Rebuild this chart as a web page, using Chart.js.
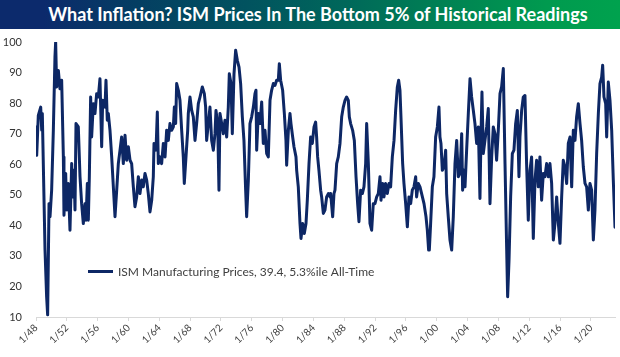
<!DOCTYPE html>
<html>
<head>
<meta charset="utf-8">
<script src="https://cdn.jsdelivr.net/npm/chart.js@4.4.1/dist/chart.umd.min.js"></script>
<style>
  html, body { margin: 0; padding: 0; background: #ffffff; }
  #wrap { position: relative; width: 620px; height: 357px; overflow: hidden; }
  #title {
    position: absolute; left: 0; top: 0; width: 620px; height: 29px;
    background: linear-gradient(90deg, #0c2a6c 0%, #0c2a6c 7%, #043e62 22%, #01535f 40%, #00685a 56%, #008253 72%, #009a4f 88%, #00a24e 100%);
    color: #ffffff; font-family: Lato, "Open Sans", sans-serif; font-weight: 700; font-size: 18px;
    line-height: 29px; text-align: center; box-sizing: border-box; padding-left: 16px; white-space: nowrap;
  }
  canvas { position: absolute; left: 0; top: 0; }
</style>
</head>
<body>
<div id="wrap">
  <canvas id="c" width="620" height="357"></canvas>
  <div id="title">What Inflation? ISM Prices In The Bottom 5% of Historical Readings</div>
</div>
<script>
// Dates as decimal years
const dates = [
1948.00,1948.09,1948.30,1948.61,1948.74,1948.82,1949.17,1949.38,1949.51,1949.69,1949.82,1950.03,1950.25,1950.46,1950.55,1950.68,1950.90,1951.11,1951.33,1951.55,
1951.63,1951.85,1951.98,1952.19,1952.41,1952.63,1952.76,1952.93,1953.06,1953.19,1953.49,1953.71,1953.92,1954.14,1954.36,1954.49,1954.66,1954.79,1954.92,1955.09,
1955.22,1955.44,1955.65,1955.87,1956.09,1956.30,1956.52,1956.65,1956.95,1957.08,1957.25,1957.38,1957.60,1957.82,1958.25,1958.47,1958.68,1958.90,1959.11,1959.33,
1959.55,1959.76,1959.98,1960.20,1960.41,1960.63,1960.84,1961.06,1961.28,1961.49,1961.71,1961.92,1962.14,1962.36,1962.57,1962.79,1963.01,1963.22,1963.31,1963.57,
1963.74,1963.87,1964.09,1964.30,1964.52,1964.74,1964.95,1965.17,1965.38,1965.60,1965.82,1965.95,1966.12,1966.25,1966.47,1966.68,1966.90,1967.11,1967.24,1967.46,
1967.68,1967.76,1967.98,1968.20,1968.41,1968.63,1968.84,1969.06,1969.28,1969.58,1969.84,1970.01,1970.14,1970.36,1970.57,1970.79,1971.01,1971.22,1971.35,1971.57,
1971.74,1971.87,1972.09,1972.30,1972.52,1972.74,1972.95,1973.08,1973.30,1973.47,1973.69,1973.90,1974.12,1974.34,1974.55,1974.77,1974.98,1975.20,1975.33,1975.55,
1975.76,1975.98,1976.20,1976.41,1976.54,1976.63,1976.84,1977.06,1977.28,1977.49,1977.71,1977.93,1978.14,1978.36,1978.57,1978.79,1979.01,1979.22,1979.44,1979.57,
1979.74,1980.00,1980.22,1980.43,1980.52,1980.74,1980.95,1981.08,1981.30,1981.47,1981.73,1981.82,1982.03,1982.25,1982.38,1982.60,1982.81,1983.03,1983.20,1983.42,
1983.63,1983.85,1984.07,1984.28,1984.41,1984.54,1984.71,1984.93,1985.06,1985.28,1985.49,1985.71,1985.93,1986.14,1986.23,1986.49,1986.66,1986.79,1987.01,1987.22,
1987.44,1987.66,1987.87,1988.09,1988.30,1988.52,1988.65,1988.82,1989.08,1989.30,1989.52,1989.73,1989.90,1990.12,1990.34,1990.55,1990.77,1990.90,1991.12,1991.33,
1991.55,1991.76,1991.98,1992.20,1992.41,1992.63,1992.76,1992.98,1993.15,1993.36,1993.58,1993.80,1994.01,1994.23,1994.45,1994.66,1994.88,1995.05,1995.22,1995.35,
1995.57,1995.74,1995.96,1996.18,1996.39,1996.61,1996.82,1997.04,1997.26,1997.38,1997.60,1997.82,1998.03,1998.34,1998.60,1998.77,1998.94,1999.03,1999.20,1999.42,
1999.63,1999.85,2000.07,2000.28,2000.41,2000.54,2000.72,2000.93,2001.15,2001.28,2001.49,2001.71,2001.93,2002.14,2002.36,2002.58,2002.79,2003.01,2003.23,2003.35,
2003.53,2003.66,2003.87,2004.09,2004.31,2004.52,2004.74,2004.95,2005.17,2005.39,2005.60,2005.73,2005.86,2006.03,2006.25,2006.47,2006.68,2006.90,2007.12,2007.33,
2007.55,2007.76,2007.98,2008.20,2008.41,2008.63,2008.85,2009.06,2009.19,2009.37,2009.58,2009.80,2010.01,2010.23,2010.45,2010.66,2010.79,2011.01,2011.22,2011.44,
2011.65,2011.87,2012.09,2012.30,2012.52,2012.74,2012.95,2013.17,2013.38,2013.60,2013.82,2014.03,2014.25,2014.47,2014.68,2014.90,2015.12,2015.33,2015.55,2015.77,
2015.98,2016.20,2016.41,2016.63,2016.85,2017.06,2017.28,2017.50,2017.71,2017.93,2018.14,2018.36,2018.58,2018.79,2019.01,2019.23,2019.44,2019.66,2019.87,2020.09,
2020.31,2020.52,2020.74,2020.96,2021.17,2021.39,2021.52,2021.69,2021.91,2022.04,2022.25,2022.47,2022.69,2022.90,2023.12
];
// ISM Manufacturing Prices index values
const prices = [
72.2,62.9,76.0,78.7,71.1,76.6,31.9,16.6,10.7,47.1,42.8,51.5,71.1,95.1,100,85.3,90.7,84.7,87.5,62.4,
43.3,57.0,45.0,53.7,38.4,60.2,49.3,58.0,45.0,73.3,72.2,55.9,47.1,40.6,47.1,41.7,53.7,41.7,55.9,82.0,
68.9,79.8,76.6,83.1,82.0,88.0,65.7,80.9,78.7,87.5,74.4,76.6,71.1,62.4,42.8,51.5,60.2,64.6,68.9,60.2,
69.5,61.3,65.7,61.3,60.2,52.6,46.1,49.3,55.9,50.4,54.8,52.6,57.0,54.8,50.4,44.4,48.2,55.9,66.8,64.6,
77.1,60.2,62.4,60.2,66.8,62.4,71.1,67.8,73.3,71.1,72.2,78.7,73.3,86.4,84.2,80.9,71.1,62.4,53.7,62.4,
71.1,76.6,82.0,77.6,75.5,67.8,73.3,79.8,82.0,85.3,83.1,78.7,67.8,73.3,78.7,67.8,64.6,70.0,77.6,73.3,
51.5,76.6,73.3,70.0,74.4,68.9,78.7,89.6,86.4,70.0,89.6,97.3,94.0,91.8,86.4,75.5,67.8,51.5,42.8,54.8,
73.3,75.5,78.7,83.1,84.2,64.6,76.6,73.3,80.4,66.8,71.1,63.5,62.4,80.9,84.2,86.4,85.8,87.5,87.5,92.9,
87.5,84.2,76.6,67.8,59.7,71.1,76.6,73.3,68.9,65.7,62.4,58.0,52.6,40.6,35.7,40.6,37.3,40.6,48.2,60.2,
68.9,66.8,72.2,73.8,68.9,62.4,58.0,51.5,49.3,43.9,45.0,49.3,50.4,49.3,50.4,42.8,50.4,51.5,60.2,62.4,
66.8,75.5,78.7,80.9,82.0,80.9,75.5,73.3,71.1,67.8,55.9,47.1,41.2,51.5,50.4,52.6,60.2,73.3,60.2,40.6,
38.4,47.1,47.1,49.3,50.4,55.9,48.2,53.7,49.3,53.7,50.4,53.7,52.6,62.4,67.8,77.6,85.3,87.5,84.2,75.5,
60.2,53.7,47.1,39.5,49.3,47.1,51.5,52.6,55.9,49.3,53.7,52.6,50.4,47.1,42.8,38.4,31.9,31.9,40.6,52.6,
55.9,68.9,72.2,78.7,68.9,66.8,58.0,59.1,64.6,50.4,42.8,35.2,31.9,42.8,60.2,67.8,55.9,57.0,70.0,51.5,
58.0,52.6,64.6,76.6,88.0,82.0,77.6,73.3,66.8,72.2,48.8,68.9,83.6,63.5,67.8,72.2,78.2,47.1,62.4,72.2,
70.0,61.3,71.1,83.1,85.3,91.3,60.2,33.0,16.6,28.6,49.3,63.5,64.6,73.3,77.6,55.9,68.9,77.6,82.0,82.5,
60.2,41.7,58.0,62.4,35.7,54.8,61.3,52.6,62.4,48.2,57.0,55.9,60.2,55.9,60.2,53.7,35.2,40.6,49.3,40.6,
34.1,49.3,61.3,59.1,53.7,66.8,68.9,52.6,71.1,67.8,75.5,79.8,73.3,67.8,59.1,53.7,52.6,45.0,53.7,51.5,
35.2,45.0,63.5,76.6,86.4,88.5,92.4,82.0,79.8,68.9,86.9,80.9,71.1,54.8,39.4
];
const seriesLabel = 'ISM Manufacturing Prices, 39.4, 5.3%ile All-Time';
const yTicks = [10, 20, 30, 40, 50, 60, 70, 80, 90, 100];
const xTickYears = [1948,1952,1956,1960,1964,1968,1972,1976,1980,1984,1988,1992,1996,2000,2004,2008,2012,2016,2020];

const points = dates.map((d, i) => ({ x: d, y: prices[i] }));

const insideLegend = {
  id: 'insideLegend',
  afterDraw(chart, args, opts) {
    const ctx = chart.ctx;
    const ds = chart.data.datasets[0];
    const a = chart.chartArea;
    const x0 = a.left + opts.dx, y0 = a.top + opts.dy;
    ctx.save();
    ctx.strokeStyle = ds.borderColor;
    ctx.lineWidth = 3;
    ctx.beginPath();
    ctx.moveTo(x0, y0);
    ctx.lineTo(x0 + opts.lineLen, y0);
    ctx.stroke();
    ctx.fillStyle = opts.color;
    ctx.font = opts.font;
    ctx.textBaseline = 'middle';
    ctx.textAlign = 'left';
    ctx.fillText(ds.label, x0 + opts.lineLen + opts.gap, y0 + 0.5);
    ctx.restore();
  }
};

new Chart(document.getElementById('c'), {
  type: 'line',
  data: {
    datasets: [{
      label: seriesLabel,
      data: points,
      borderColor: '#0d2765',
      borderWidth: 3,
      pointRadius: 0,
      tension: 0,
      borderJoinStyle: 'round',
      borderCapStyle: 'round',
      fill: false
    }]
  },
  options: {
    responsive: false,
    animation: false,
    devicePixelRatio: 1,
    layout: { padding: { top: 42, right: 5, bottom: 0, left: 0 } },
    plugins: {
      legend: { display: false },
      tooltip: { enabled: false },
      title: { display: false },
      insideLegend: { dx: 52, dy: 229.5, lineLen: 25, gap: 5, color: '#404040', font: '12px Lato, "Open Sans", sans-serif' }
    },
    scales: {
      x: {
        type: 'linear',
        min: 1948,
        max: 2023.12,
        bounds: 'data',
        afterFit: s => { s.height = 40; },
        afterBuildTicks: s => { s.ticks = xTickYears.map(v => ({ value: v })); },
        grid: { drawOnChartArea: false, drawTicks: true, tickLength: 4, color: '#d9d9d9' },
        border: { display: true, color: '#d9d9d9', width: 1 },
        ticks: {
          autoSkip: false,
          maxRotation: 45,
          minRotation: 45,
          padding: 1,
          color: '#404040',
          font: { family: 'Lato, "Open Sans", sans-serif', size: 10 },
          callback: v => '1/' + String(v % 100).padStart(2, '0')
        }
      },
      y: {
        min: 10,
        max: 100,
        afterFit: s => { s.width = 36; },
        afterBuildTicks: s => { s.ticks = yTicks.map(v => ({ value: v })); },
        grid: { display: false, drawTicks: false },
        border: { display: false },
        ticks: {
          padding: 14,
          color: '#333333',
          font: { family: 'Lato, "Open Sans", sans-serif', size: 11 }
        }
      }
    }
  },
  plugins: [insideLegend]
});
</script>
</body>
</html>
